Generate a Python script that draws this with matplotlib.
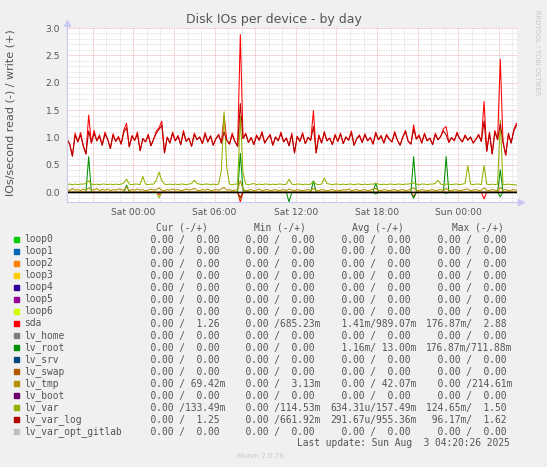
import numpy as np
import pandas as pd
import matplotlib
matplotlib.use("Agg")
import matplotlib.pyplot as plt
import matplotlib.dates as mdates
from matplotlib.ticker import MultipleLocator, FuncFormatter

W, H = 547, 467

# 12 minute samples, Fri 19:06 -> Sun 04:18
times = pd.date_range("2025-08-01 19:06", periods=167, freq="12min")

sda_write = [
    0.97, 0.88, 0.66, 1.08, 0.92, 1.09, 0.85, 0.70, 1.41, 0.90,
    1.13, 0.94, 1.05, 0.86, 1.10, 0.97, 0.80, 1.07, 0.93, 1.02,
    0.88, 1.14, 1.26, 0.83, 1.04, 0.95, 1.10, 0.76, 0.98, 0.92,
    1.06, 0.85, 0.97, 1.12, 1.18, 1.30, 0.72, 1.01, 0.90, 1.10,
    0.94, 1.04, 0.87, 1.13, 0.93, 0.99, 0.84, 1.08, 0.96, 1.01,
    0.89, 1.09, 0.92, 1.03, 0.86, 0.98, 1.06, 0.90, 1.40, 0.95,
    0.88, 1.08, 0.93, 0.84, 2.88, 0.98, 1.08, 0.91, 1.00, 0.87,
    1.05, 0.95, 1.11, 0.90, 0.98, 1.06, 0.86, 1.01, 0.94, 1.10,
    0.92, 0.99, 0.85, 1.08, 0.72, 1.02, 0.93, 1.09, 0.89, 1.00,
    0.95, 1.49, 0.72, 1.05, 0.90, 1.11, 0.94, 0.99, 0.87, 1.06,
    0.93, 1.08, 0.89, 1.01, 0.95, 1.12, 0.86, 0.98, 1.05, 0.91,
    1.07, 0.94, 1.00, 0.88, 1.10, 0.96, 1.04, 0.90, 1.06, 0.97,
    0.92, 1.11, 0.95, 0.86, 1.01, 1.13, 0.93, 0.88, 1.23, 0.97,
    1.05, 0.90, 1.08, 0.94, 0.99, 0.87, 1.08, 0.96, 1.02, 1.16,
    1.20, 0.91, 1.00, 0.94, 1.10, 0.98, 0.92, 1.05, 0.95, 1.01,
    0.90, 0.97, 1.06, 0.93, 1.66, 0.75, 1.10, 0.70, 1.13, 0.96,
    2.43, 0.92, 0.68, 1.08, 0.90, 1.15, 1.26,
]

varlog_write = [
    0.97, 0.88, 0.66, 1.04, 0.92, 1.05, 0.85, 0.70, 1.12, 0.90,
    1.08, 0.94, 1.02, 0.86, 1.06, 0.97, 0.80, 1.04, 0.93, 1.00,
    0.88, 1.10, 1.18, 0.83, 1.02, 0.95, 1.06, 0.76, 0.98, 0.92,
    1.04, 0.85, 0.97, 1.08, 1.15, 1.22, 0.72, 1.00, 0.90, 1.07,
    0.94, 1.02, 0.87, 1.09, 0.93, 0.99, 0.84, 1.05, 0.96, 1.01,
    0.89, 1.06, 0.92, 1.03, 0.86, 0.98, 1.04, 0.90, 1.10, 0.95,
    0.88, 1.05, 0.93, 0.84, 1.62, 0.98, 1.06, 0.91, 1.00, 0.87,
    1.03, 0.95, 1.08, 0.90, 0.98, 1.04, 0.86, 1.01, 0.94, 1.07,
    0.92, 0.99, 0.85, 1.05, 0.72, 1.02, 0.93, 1.06, 0.89, 1.00,
    0.95, 1.20, 0.72, 1.03, 0.90, 1.08, 0.94, 0.99, 0.87, 1.04,
    0.93, 1.06, 0.89, 1.01, 0.95, 1.09, 0.86, 0.98, 1.03, 0.91,
    1.05, 0.94, 1.00, 0.88, 1.07, 0.96, 1.02, 0.90, 1.04, 0.97,
    0.92, 1.08, 0.95, 0.86, 1.01, 1.10, 0.93, 0.88, 1.15, 0.97,
    1.03, 0.90, 1.06, 0.94, 0.99, 0.87, 1.05, 0.96, 1.02, 1.12,
    1.05, 0.91, 1.00, 0.94, 1.07, 0.98, 0.92, 1.03, 0.95, 1.01,
    0.90, 0.97, 1.04, 0.93, 1.30, 0.75, 1.08, 0.70, 1.10, 0.96,
    1.25, 0.92, 0.68, 1.06, 0.90, 1.12, 1.22,
]

var_write = [
    0.14, 0.15, 0.14, 0.15, 0.14, 0.15, 0.15, 0.16, 0.21, 0.15,
    0.14, 0.15, 0.14, 0.15, 0.15, 0.14, 0.15, 0.14, 0.15, 0.14,
    0.15, 0.17, 0.24, 0.15, 0.14, 0.15, 0.15, 0.14, 0.29, 0.15,
    0.14, 0.15, 0.15, 0.22, 0.37, 0.21, 0.15, 0.14, 0.15, 0.14,
    0.15, 0.14, 0.15, 0.15, 0.14, 0.15, 0.16, 0.22, 0.16, 0.15,
    0.14, 0.15, 0.15, 0.14, 0.15, 0.14, 0.15, 0.40, 1.47, 0.45,
    0.15, 0.14, 0.15, 0.15, 1.39, 0.35, 0.15, 0.14, 0.15, 0.16,
    0.14, 0.15, 0.14, 0.15, 0.15, 0.14, 0.15, 0.14, 0.15, 0.15,
    0.14, 0.15, 0.24, 0.15, 0.14, 0.15, 0.15, 0.14, 0.15, 0.14,
    0.15, 0.20, 0.15, 0.14, 0.15, 0.26, 0.16, 0.15, 0.14, 0.15,
    0.15, 0.14, 0.15, 0.14, 0.15, 0.15, 0.14, 0.15, 0.15, 0.14,
    0.15, 0.14, 0.15, 0.15, 0.16, 0.15, 0.14, 0.15, 0.14, 0.15,
    0.15, 0.14, 0.15, 0.15, 0.14, 0.15, 0.15, 0.16, 0.17, 0.15,
    0.14, 0.15, 0.15, 0.14, 0.15, 0.15, 0.16, 0.22, 0.15, 0.14,
    0.15, 0.15, 0.14, 0.15, 0.15, 0.14, 0.15, 0.16, 0.49, 0.15,
    0.14, 0.15, 0.15, 0.14, 0.49, 0.15, 0.14, 0.15, 0.14, 0.15,
    1.32, 0.14, 0.14, 0.15, 0.14, 0.14, 0.13,
]

tmp_write = [
    0.06, 0.03, 0.07, 0.04, 0.05, 0.03, 0.06, 0.04, 0.08, 0.05,
    0.04, 0.07, 0.03, 0.05, 0.04, 0.06, 0.03, 0.05, 0.04, 0.06,
    0.05, 0.04, 0.10, 0.03, 0.05, 0.04, 0.06, 0.04, 0.05, 0.03,
    0.04, 0.06, 0.04, 0.05, 0.08, 0.04, 0.03, 0.05, 0.04, 0.06,
    0.04, 0.05, 0.03, 0.04, 0.06, 0.04, 0.05, 0.07, 0.04, 0.03,
    0.05, 0.04, 0.06, 0.03, 0.04, 0.05, 0.04, 0.06, 0.09, 0.04,
    0.05, 0.03, 0.04, 0.05, 0.21, 0.06, 0.03, 0.04, 0.05, 0.03,
    0.04, 0.06, 0.03, 0.04, 0.05, 0.03, 0.04, 0.05, 0.03, 0.04,
    0.05, 0.03, 0.06, 0.04, 0.03, 0.05, 0.04, 0.03, 0.04, 0.05,
    0.03, 0.07, 0.04, 0.03, 0.05, 0.04, 0.03, 0.04, 0.05, 0.03,
    0.04, 0.03, 0.05, 0.04, 0.06, 0.03, 0.04, 0.05, 0.03, 0.04,
    0.05, 0.03, 0.04, 0.06, 0.07, 0.04, 0.03, 0.05, 0.04, 0.03,
    0.04, 0.05, 0.03, 0.04, 0.05, 0.03, 0.04, 0.06, 0.08, 0.04,
    0.03, 0.05, 0.04, 0.03, 0.04, 0.05, 0.03, 0.04, 0.05, 0.03,
    0.07, 0.04, 0.03, 0.05, 0.04, 0.03, 0.04, 0.05, 0.06, 0.03,
    0.04, 0.05, 0.03, 0.04, 0.08, 0.04, 0.03, 0.05, 0.04, 0.03,
    0.09, 0.04, 0.05, 0.03, 0.04, 0.05, 0.04,
]

# sparse spikes (time, value)
root_write_at = ["2025-08-01 20:42", "2025-08-01 23:30", "2025-08-02 07:54",
                 "2025-08-02 08:06", "2025-08-02 08:30", "2025-08-02 13:18",
                 "2025-08-02 17:54", "2025-08-02 20:42", "2025-08-02 23:06",
                 "2025-08-03 03:06"]
root_write_val = [0.65, 0.13, 0.71, 0.04, 0.02, 0.21, 0.17, 0.65, 0.65, 0.41]
root_read_at = ["2025-08-02 11:30", "2025-08-02 17:54", "2025-08-02 20:42",
                "2025-08-02 23:06", "2025-08-03 03:06"]
root_read_val = [0.177, 0.03, 0.11, 0.02, 0.08]
sda_read_at = ["2025-08-02 01:54", "2025-08-02 07:54", "2025-08-02 20:42",
               "2025-08-03 01:54"]
sda_read_val = [0.04, 0.177, 0.08, 0.12]
var_read_at = ["2025-08-02 01:54", "2025-08-02 07:54"]
var_read_val = [0.10, 0.125]
varlog_read_at = ["2025-08-02 07:54"]
varlog_read_val = [0.096]

names = ["loop0", "loop1", "loop2", "loop3", "loop4", "loop5", "loop6", "sda",
         "lv_home", "lv_root", "lv_srv", "lv_swap", "lv_tmp", "lv_boot",
         "lv_var", "lv_var_log", "lv_var_opt_gitlab"]
colors = ["#00CC00", "#0066B3", "#FF8000", "#FFCC00", "#330099", "#990099",
          "#CCFF00", "#FF0000", "#808080", "#008F00", "#00487D", "#B35A00",
          "#B38F00", "#6B006B", "#8FB300", "#B30000", "#BEBEBE"]

Z = "  0.00 /  0.00 "
cur_txt = [Z] * 7 + ["  0.00 /  1.26 ", Z, Z, Z, Z, "  0.00 / 69.42m", Z,
                     "  0.00 /133.49m", "  0.00 /  1.25 ", Z]
min_txt = [Z] * 7 + ["  0.00 /685.23m", Z, Z, Z, Z, "  0.00 /  3.13m", Z,
                     "  0.00 /114.53m", "  0.00 /661.92m", Z]
avg_txt = [Z] * 7 + ["  1.41m/989.07m", Z, "  1.16m/ 13.00m", Z, Z,
                     "  0.00 / 42.07m", Z, "634.31u/157.49m", "291.67u/955.36m", Z]
max_txt = [Z] * 7 + ["176.87m/  2.88 ", Z, "176.87m/711.88m", Z, Z,
                     "  0.00 /214.61m", Z, "124.65m/  1.50 ", " 96.17m/  1.62 ", Z]


def spikes(at, vals):
    s = np.zeros(len(times))
    idx = times.get_indexer(pd.to_datetime(at), method="nearest")
    s[idx] = vals
    return s


write = {n: np.zeros(len(times)) for n in names}
read = {n: np.zeros(len(times)) for n in names}
write["sda"] = np.array(sda_write)
write["lv_var_log"] = np.array(varlog_write)
write["lv_var"] = np.array(var_write)
write["lv_tmp"] = np.array(tmp_write)
write["lv_root"] = spikes(root_write_at, root_write_val)
read["lv_root"] = spikes(root_read_at, root_read_val)
read["sda"] = spikes(sda_read_at, sda_read_val)
read["lv_var"] = spikes(var_read_at, var_read_val)
read["lv_var_log"] = spikes(varlog_read_at, varlog_read_val)

txt = "#555555"
axis_col = "#C8C8F0"

fig = plt.figure(figsize=(W / 100, H / 100), dpi=100, facecolor="#F0F0F0")
ax = fig.add_axes([67 / W, 1 - 202 / H, 450 / W, 174 / H])
ax.set_facecolor("white")

for n, c in zip(names, colors):
    ax.plot(times, -read[n], color=c, lw=0.75)
    ax.plot(times, write[n], color=c, lw=0.75)
ax.axhline(0, color="black", lw=0.8)

ax.set_xlim(pd.Timestamp("2025-08-01 19:06"), pd.Timestamp("2025-08-03 04:20"))
ax.set_ylim(-0.177, 3.0)

ax.yaxis.set_major_locator(MultipleLocator(0.5))
ax.yaxis.set_minor_locator(MultipleLocator(0.1))
ax.yaxis.set_major_formatter(FuncFormatter(lambda v, p: "%.1f" % v))
ax.xaxis.set_major_locator(mdates.HourLocator(byhour=range(0, 24, 3)))
ax.xaxis.set_minor_locator(mdates.HourLocator())
ax.xaxis.set_major_formatter(FuncFormatter(
    lambda v, p: mdates.num2date(v).strftime("%a %H:%M")
    if mdates.num2date(v).hour % 6 == 0 else ""))

ax.grid(which="minor", color="#D8D8D8", linestyle=(0, (1, 1)), lw=0.6)
ax.grid(which="major", color="#F0A0A0", linestyle=(0, (1, 1)), lw=0.6)
ax.set_axisbelow(True)
ax.tick_params(which="both", length=0, labelsize=6.6, colors=txt)
ax.tick_params(axis="y", pad=5)
ax.tick_params(axis="x", pad=4)

for s in ["top", "right"]:
    ax.spines[s].set_visible(False)
for s in ["left", "bottom"]:
    ax.spines[s].set_color(axis_col)
    ax.spines[s].set_linewidth(0.8)
ax.plot([0, 0], [1, 1.03], color=axis_col, lw=0.8, transform=ax.transAxes, clip_on=False)
ax.plot([0], [1.03], marker="^", ms=4, color=axis_col, transform=ax.transAxes, clip_on=False)
ax.plot([1, 1.008], [0, 0], color=axis_col, lw=0.8, transform=ax.transAxes, clip_on=False)
ax.plot([1.008], [0], marker=">", ms=4, color=axis_col, transform=ax.transAxes, clip_on=False)


def px(x, y):
    return x / W, 1 - y / H


fig.text(*px(273.5, 19), "Disk IOs per device - by day", ha="center", va="center",
         fontsize=9, color=txt)
fig.text(*px(11, 113), "IOs/second read (-) / write (+)", ha="center", va="center",
         rotation=90, fontsize=8, color=txt)
fig.text(*px(537, 53), "RRDTOOL / TOBI OETIKER", ha="center", va="center",
         rotation=270, fontsize=4.8, color="#C8C8C8")

mono = dict(family="DejaVu Sans Mono", fontsize=6.9, color=txt, va="center")
heads = ["Cur (-/+)", "Min (-/+)", "Avg (-/+)", "Max (-/+)"]
head_x = [156.5, 254.5, 352.5, 451.5]
col_x = [139, 234.5, 330, 425.5]
for hx, h in zip(head_x, heads):
    fig.text(*px(hx, 228), h, ha="left", **mono)

for i, n in enumerate(names):
    y = 239.5 + 12 * i
    fig.patches.append(plt.Rectangle(px(14, y + 2.5), 5 / W, 5 / H, color=colors[i],
                                     transform=fig.transFigure, figure=fig))
    fig.text(*px(24, y), n, ha="left", **mono)
    for cx, col in zip(col_x, [cur_txt, min_txt, avg_txt, max_txt]):
        fig.text(*px(cx, y), col[i], ha="left", **mono)

fig.text(*px(510, 443), "Last update: Sun Aug  3 04:20:26 2025", ha="right", **mono)
fig.text(*px(260.5, 456.5), "Munin 2.0.76", ha="center", va="center",
         fontsize=5.2, color="#C8C8C8")

fig.savefig("out.png", dpi=100, facecolor=fig.get_facecolor())
